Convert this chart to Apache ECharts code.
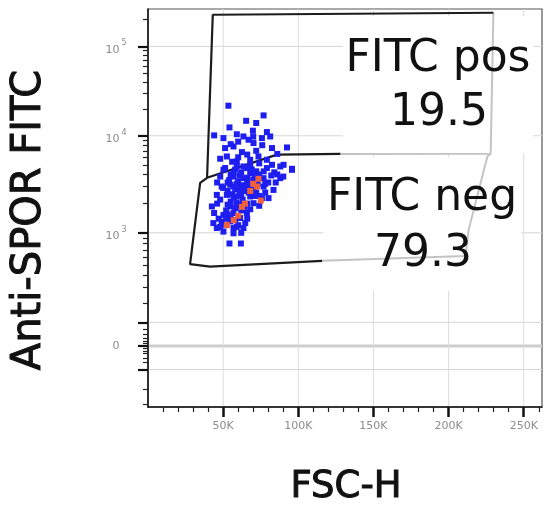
<!DOCTYPE html>
<html>
<head>
<meta charset="utf-8">
<script src="https://cdn.jsdelivr.net/npm/echarts@6/dist/echarts.min.js"></script>
<style>
  html, body { margin: 0; background: #fff; }
  #chart { width: 545px; height: 506px; }
</style>
</head>
<body>
<div id="chart"></div>
<script>
// FSC-H in thousands, Anti-SPOR FITC in raw fluorescence units
const blueEvents = [
  [53.5, 21700], [65.3, 14700], [72, 13900], [76.9, 16900], [54.2, 12400], [69.8, 11400],
  [44, 10100], [50.2, 9460], [59.1, 10400], [63.5, 9840], [66.9, 9100], [70.2, 8410],
  [79.1, 11000], [81.3, 9840], [75.8, 9460], [56.9, 7760], [51.3, 7470], [62.5, 6790],
  [82.5, 7470], [92.5, 7580], [52.5, 6120], [73.5, 6120], [68, 5660], [59.1, 5440],
  [79.1, 5660], [90.2, 5020], [95.8, 4570], [82.5, 5020], [50.2, 4460], [63.5, 4830],
  [51.3, 4650], [59.1, 4830], [65.8, 4650], [79.1, 4650], [88, 4830], [95.8, 4460],
  [48, 3800], [56.9, 3800], [63.5, 3660], [76.9, 3660], [88, 3660], [54.7, 3130],
  [61.3, 3000], [76.9, 3000], [83.5, 2770], [45.8, 2460], [52.5, 2460], [59.1, 2370],
  [68, 2370], [75.8, 2280], [80.2, 2280], [61.3, 1940], [70.2, 2020], [54.7, 1870],
  [42.5, 1870], [56.9, 1600], [65.8, 1600], [50.2, 1530], [61.3, 1420], [43.5, 1260],
  [54.7, 1310], [64.7, 1260], [45.8, 1120], [56.9, 1120], [63.5, 1120], [50.2, 1030],
  [56.9, 990], [54.2, 800], [61.8, 800],
  [57, 4200], [62, 4200], [68, 4100], [72, 4300], [54, 3500], [60, 3400], [66, 3300],
  [70, 3500], [73, 3200], [58, 2800], [64, 2700], [70, 2800], [50, 2900], [48, 2200],
  [55, 2100], [66, 2000], [72, 2600], [58, 1800], [62, 1700], [52, 1700], [47, 1400],
  [58, 1350], [52, 1200], [60, 1200], [48, 1150], [66, 1400], [74, 1900], [78, 2600],
  [85, 3300], [86, 4000], [74, 5200], [68, 5000], [60, 6000], [56, 5400], [66, 6400],
  [72, 7000], [70, 9800], [60, 8700], [55, 8200], [48, 5800], [76, 8000], [86, 6500],
  [84, 4200], [90, 3800],
  [46, 3300], [49, 3000], [53, 2700], [56, 2500], [62, 2500], [65, 2900], [67, 3100],
  [71, 2400], [63, 2200], [57, 2300], [53, 1950], [59, 2050], [64, 1850], [68, 1750],
  [55, 1450], [53, 1550], [49, 1300], [59, 1150], [62, 1000], [52, 1400], [66, 3700],
  [61, 3900], [58, 4500], [69, 4500], [74, 4000], [77, 4300], [80, 3300], [82, 3900],
  [71, 3900], [55, 4000], [53, 3300], [59, 3200], [64, 3100], [67, 2600], [61, 2700],
  [74, 2400], [78, 3200], [57, 3000], [46, 2000], [44, 1600]
]
const redEvents = [
  [70, 3200], [72.5, 3000], [73.5, 3600], [75, 2150], [62.5, 1850],
  [60, 1500], [52.5, 1200], [57, 1350], [68, 2700], [64.5, 2000]
]

// gate outlines, dark and light parts as the reference draws them
const posGateDark = [[128, 6500], [85.8, 6400], [39.3, 3690], [43.1, 226000], [229.8, 238000]]
const posGateLight = [[229.8, 238000], [228, 6520], [128, 6500]]
const negGateDark = [[115.8, 552], [41.3, 487], [28, 513], [34.7, 3270], [39.3, 3690]]
const negGateLight = [[115.8, 552], [211.3, 614], [213.3, 1070], [225.8, 6120], [228, 6520]]

const gateNames = ['FITC pos', 'FITC neg']
const gateFreqs = ['19.5', '79.3']

const xMax = 262.144
const xTicks = [50, 100, 150, 200, 250]
const xMinorTicks = [10, 20, 30, 40, 60, 70, 80, 90, 110, 120, 130, 140, 160, 170, 180, 190,
  210, 220, 230, 240, 260]
const yMin = -320
const yMax = 262144
const yTicks = [0, 1e3, 1e4, 1e5]
const yTickExp = [null, 3, 4, 5]
const yUnlabeledTicks = [-100, 100]
const yMinorTicks = [2e5, 2e4, 3e4, 4e4, 5e4, 6e4, 7e4, 8e4, 9e4,
  2e3, 3e3, 4e3, 5e3, 6e3, 7e3, 8e3, 9e3, 200, 300, 400, 500, 600, 700, 800, 900,
  -200, -300, -70, -50, -30, -20, -10, 10, 20, 30, 50, 70]
const yGridLines = [-100, 100, 1e3, 1e4, 1e5]

// logicle-like display transform: linear-ish around zero, log per decade above 10^3
const logicle = (v) => {
  const a = Math.abs(v)
  let d
  if (a <= 1000) d = 113 * Math.asinh(a / 200) / Math.asinh(5)
  else if (a <= 1e4) d = 113 + 97 * Math.log10(a / 1e3)
  else d = 210 + 89.3 * Math.log10(a / 1e4)
  return v < 0 ? -d : d
}
const toXY = (pts) => pts.map(([x, y]) => [x, logicle(y)])

const font = 'DejaVu Sans'
const gray = '#8c8c8c'

const chart = echarts.init(document.getElementById('chart'))

const gateLine = (data, color, width) => ({
  type: 'line',
  data: toXY(data),
  symbol: 'none',
  silent: true,
  z: 3,
  lineStyle: { color: color, width: width }
})

const bigText = (text, x, y) => ({
  type: 'text', z: 5, x: x, y: y,
  style: { text: text, font: '44px "DejaVu Sans"', fill: '#111', align: 'center', verticalAlign: 'middle' }
})

const option = {
  animation: false,
  grid: {
    left: 148,
    right: 3,
    top: 9,
    bottom: 99,
    show: true,
    borderColor: '#555',
    borderWidth: 1.2
  },
  xAxis: [
    {
      type: 'value',
      position: 'bottom',
      min: 0,
      max: xMax,
      axisLine: { onZero: false, lineStyle: { color: '#111', width: 1.5 } },
      axisTick: { customValues: xTicks, length: 10, lineStyle: { color: '#111', width: 2.5 } },
      axisLabel: {
        customValues: xTicks,
        margin: 14,
        color: gray,
        fontFamily: font,
        fontSize: 11,
        formatter: (v) => v + 'K'
      },
      splitLine: { show: false }
    },
    {
      type: 'value',
      position: 'bottom',
      min: 0,
      max: xMax,
      axisLine: { show: false, onZero: false },
      axisTick: { customValues: xMinorTicks, length: 5, lineStyle: { color: '#222', width: 1.2 } },
      axisLabel: { show: false },
      splitLine: { show: false }
    }
  ],
  yAxis: [
    {
      type: 'value',
      position: 'left',
      min: logicle(yMin),
      max: logicle(yMax),
      axisLine: { onZero: false, lineStyle: { color: '#111', width: 1.5 } },
      axisTick: {
        customValues: yTicks.concat(yUnlabeledTicks).map(logicle),
        length: 10,
        lineStyle: { color: '#111', width: 2.2 }
      },
      axisLabel: {
        customValues: yTicks.map(logicle),
        margin: 32,
        align: 'center',
        color: gray,
        fontFamily: font,
        formatter: (v) => {
          const i = yTicks.findIndex((t) => Math.abs(logicle(t) - v) < 1e-6)
          if (i < 0) return ''
          if (yTickExp[i] === null) return '{z|0}'
          return '{b|10}{s|' + yTickExp[i] + '}'
        },
        rich: {
          z: { fontSize: 11, color: gray, fontFamily: font },
          b: { fontSize: 11, color: gray, fontFamily: font, padding: [7, 0, 0, 0] },
          s: { fontSize: 8, color: gray, fontFamily: font, padding: [0, 0, 6, 2] }
        }
      },
      splitLine: { show: false }
    },
    {
      type: 'value',
      position: 'left',
      min: logicle(yMin),
      max: logicle(yMax),
      axisLine: { show: false, onZero: false },
      axisTick: { customValues: yMinorTicks.map(logicle), length: 5, lineStyle: { color: '#222', width: 1.2 } },
      axisLabel: { show: false },
      splitLine: { show: false }
    }
  ],
  graphic: [
    { type: 'rect', z: 1, silent: true, shape: { x: 343, y: 16, width: 190, height: 137 }, style: { fill: '#fff' } },
    { type: 'rect', z: 1, silent: true, shape: { x: 323, y: 157, width: 198, height: 134 }, style: { fill: '#fff' } },
    bigText(gateNames[0], 438, 60),
    bigText(gateFreqs[0], 439, 114),
    bigText(gateNames[1], 422, 199),
    bigText(gateFreqs[1], 423, 255),
    {
      type: 'text', z: 5, x: 30, y: 220, rotation: Math.PI / 2,
      style: {
        text: 'Anti-SPOR FITC', font: '40px "DejaVu Sans"', fill: '#111',
        stroke: '#111', lineWidth: 1, align: 'center', verticalAlign: 'middle'
      }
    },
    {
      type: 'text', z: 5, x: 346, y: 487,
      style: {
        text: 'FSC-H', font: '37px "DejaVu Sans"', fill: '#111',
        stroke: '#111', lineWidth: 1, align: 'center', verticalAlign: 'middle'
      }
    }
  ],
  series: [
    {
      // horizontal grid lines
      type: 'custom',
      z: 0,
      silent: true,
      data: yGridLines.map((v) => [0, logicle(v)]),
      renderItem: (params, api) => {
        const cs = params.coordSys
        const y = api.coord([0, api.value(1)])[1]
        return { type: 'line', shape: { x1: cs.x, y1: y, x2: cs.x + cs.width, y2: y }, style: { stroke: '#d6d6d6', lineWidth: 1 } }
      }
    },
    {
      // zero line
      type: 'custom',
      z: 0,
      silent: true,
      data: [[0, logicle(0)]],
      renderItem: (params, api) => {
        const cs = params.coordSys
        const y = api.coord([0, api.value(1)])[1]
        return { type: 'line', shape: { x1: cs.x, y1: y, x2: cs.x + cs.width, y2: y }, style: { stroke: '#cdcdcd', lineWidth: 3 } }
      }
    },
    {
      // vertical grid lines
      type: 'custom',
      z: 0,
      silent: true,
      data: xTicks.map((v) => [v, 0]),
      renderItem: (params, api) => {
        const cs = params.coordSys
        const x = api.coord([api.value(0), 0])[0]
        return { type: 'line', shape: { x1: x, y1: cs.y, x2: x, y2: cs.y + cs.height }, style: { stroke: '#dcdcdc', lineWidth: 1 } }
      }
    },
    gateLine(posGateLight, '#c4c4c4', 2),
    gateLine(negGateLight, '#c4c4c4', 2),
    gateLine(posGateDark, '#1c1c1c', 2.2),
    gateLine(negGateDark, '#1c1c1c', 2.2),
    {
      type: 'scatter',
      z: 4,
      silent: true,
      data: toXY(blueEvents),
      symbol: 'rect',
      symbolSize: 6,
      itemStyle: { color: '#1e1ef0', opacity: 1 }
    },
    {
      type: 'scatter',
      z: 4,
      silent: true,
      data: toXY(redEvents),
      symbol: 'rect',
      symbolSize: 6,
      itemStyle: { color: '#f0603a', opacity: 1 }
    }
  ]
}

chart.setOption(option)
</script>
</body>
</html>
